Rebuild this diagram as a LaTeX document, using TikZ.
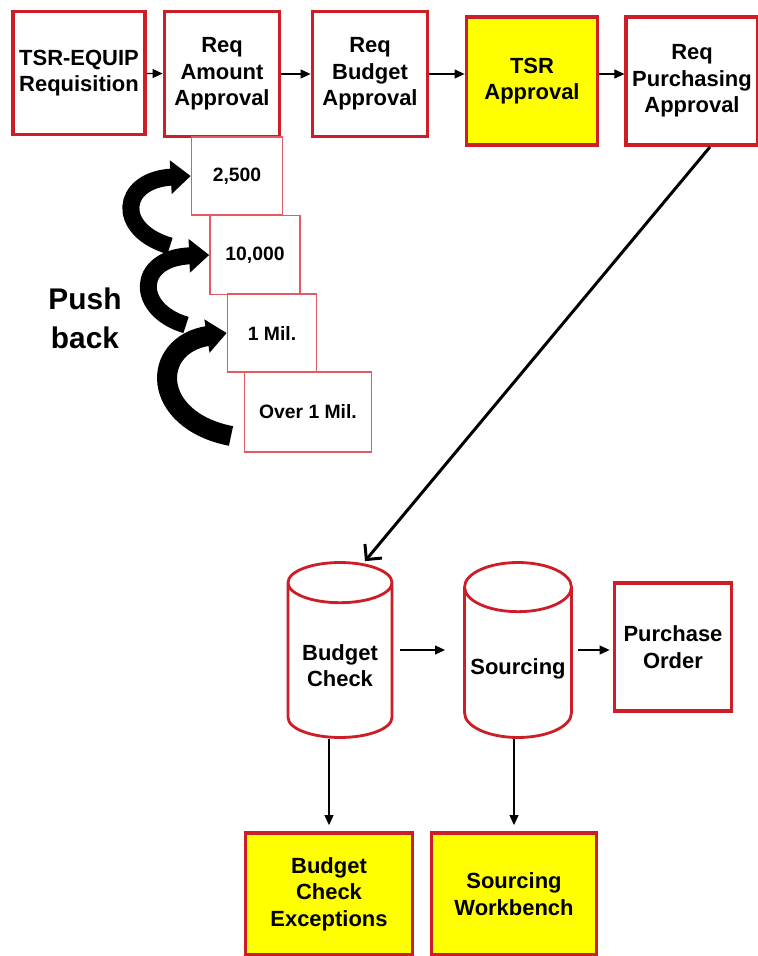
\documentclass[tikz,border=0pt]{standalone}
\usepackage{fontspec}
\setmainfont{Liberation Sans}
\usetikzlibrary{arrows.meta,shapes.geometric}
\definecolor{boxred}{RGB}{205,30,40}
\definecolor{thinred}{RGB}{225,90,100}
\definecolor{boxyellow}{RGB}{255,255,0}
\begin{document}
\begin{tikzpicture}[%
    x = 0.02cm, y = -0.02cm,
    stepbox/.style = {rectangle, draw = boxred, line width = 2.2pt, fill = white, align = center, font = \bfseries\fontsize{12.5}{15}\selectfont},
    hotbox/.style = {stepbox, fill = boxyellow},
    limit/.style = {rectangle, draw = thinred, line width = 0.9pt, fill = white, align = center, font = \bfseries\fontsize{11}{12}\selectfont},
    store/.style = {cylinder, shape border rotate = 90, draw = boxred, line width = 1.6pt, fill = white, aspect = 0.46, anchor = shape center, align = center, minimum width = 2.08cm, minimum height = 3.5cm, font = \bfseries\fontsize{12.5}{15}\selectfont},
    link/.style = {-{Triangle[length = 2mm, width = 1.8mm]}, line width = 0.6pt},
    push/.style = {-{Triangle[length = 4mm, width = 6.5mm]}, line width = 3.4mm}]

    \useasboundingbox (0, 0) rectangle (757, 956);

    \node[stepbox, minimum width = 2.64cm, minimum height = 2.46cm] (req) at (79, 73) {TSR-EQUIP\\Requisition};
    \node[stepbox, minimum width = 2.3cm, minimum height = 2.5cm] (amt) at (222, 74) {Req\\Amount\\Approval};
    \node[stepbox, minimum width = 2.3cm, minimum height = 2.5cm] (bud) at (370, 74) {Req\\Budget\\Approval};
    \node[hotbox, minimum width = 2.62cm, minimum height = 2.56cm] (tsr) at (532, 81) {TSR\\Approval};
    \node[stepbox, minimum width = 2.44cm, minimum height = 2.56cm] (purch) at (692, 81) {Req\\Purchasing\\Approval};

    \node[limit, minimum width = 1.82cm, minimum height = 1.56cm] (lim1) at (237, 176) {2,500};
    \node[limit, minimum width = 1.8cm, minimum height = 1.58cm] (lim2) at (255, 255) {10,000};
    \node[limit, minimum width = 1.78cm, minimum height = 1.56cm] (lim3) at (272, 333) {1 Mil.};
    \node[limit, minimum width = 2.54cm, minimum height = 1.6cm] (lim4) at (308, 412) {Over 1 Mil.};

    \node[font = \bfseries\fontsize{17}{22}\selectfont, align = center] (pb) at (85, 318) {Push\\back};
    \coordinate (t1) at (170, 246);
    \coordinate (t2) at (186, 325);
    \coordinate (t3) at (231, 436);

    \node[store] (bc) at (340, 650) {Budget\\Check};
    \node[store] (src) at (518, 650) {Sourcing};
    \node[stepbox, minimum width = 2.34cm, minimum height = 2.56cm] (po) at (673, 647) {Purchase\\Order};

    \node[hotbox, minimum width = 3.34cm, minimum height = 2.44cm] (bce) at (329, 894) {Budget\\Check\\Exceptions};
    \node[hotbox, minimum width = 3.3cm, minimum height = 2.44cm] (sw) at (514, 894) {Sourcing\\Workbench};

    \draw[link] (req) -- (amt);
    \draw[link] (amt) -- (bud);
    \draw[link] (bud.east) -- (bud.east -| tsr.west);
    \draw[link] (tsr.east |- amt.east) -- (purch.west |- amt.east);
    \draw[push] (t1) .. controls (115, 230) and (120, 180) .. (lim1.west);
    \draw[push] (t2) .. controls (135, 310) and (135, 258) .. (lim2.west);
    \draw[push, line width = 4mm] (t3) .. controls (150, 420) and (150, 345) .. (lim3.west);
    \draw[-{Straight Barb[length = 2.2mm, width = 4.4mm]}, line width = 1.7pt] ([xshift = 0.36cm]purch.south) -- ([xshift = 0.5cm]bc.top);
    \draw[link, shorten <= 1.2cm, shorten >= 1.46cm] (bc.shape center) -- (src.shape center);
    \draw[link, shorten <= 1.2cm, shorten >= 0.06cm] (src.shape center) -- (src.shape center -| po.west);
    \draw[link, shorten >= 0.12cm] (bc.bottom -| bce.north) -- (bce.north);
    \draw[link, shorten >= 0.12cm] (src.bottom -| sw.north) -- (sw.north);
\end{tikzpicture}
\end{document}
